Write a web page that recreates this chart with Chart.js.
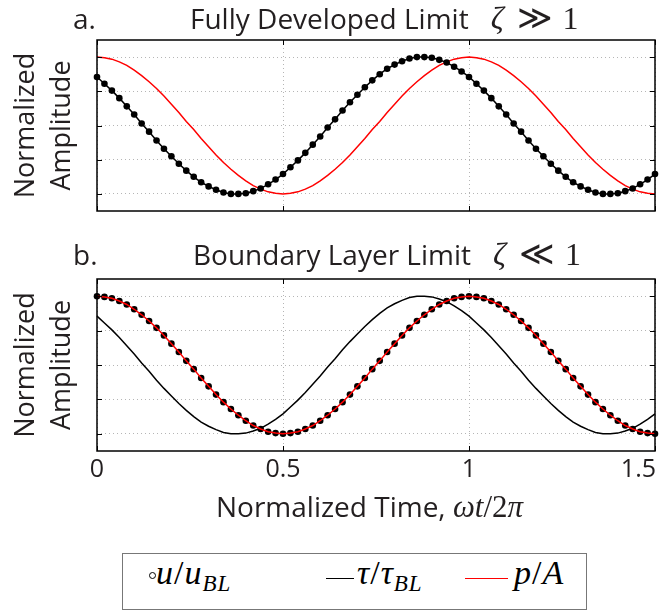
<!DOCTYPE html>
<html>
<head>
<meta charset="utf-8">
<script src="https://cdn.jsdelivr.net/npm/chart.js@4.4.0/dist/chart.umd.min.js"></script>
<style>
  html, body { margin: 0; padding: 0; background: #fff; }
  body { width: 660px; height: 610px; position: relative; overflow: hidden;
         font-family: 'Open Sans', sans-serif; color: #231f20; }
  canvas { position: absolute; left: 0; }
  #c1 { top: 0; }
  #c2 { top: 230px; }
  .txt { position: absolute; white-space: nowrap; font-size: 28px; line-height: 28px; }
  .mi { font-family: 'Liberation Serif', 'DejaVu Serif', serif; font-style: italic; }
  .mr { font-family: 'Liberation Serif', 'DejaVu Serif', serif; font-style: normal; }
  .lg { position: absolute; white-space: nowrap; font-size: 34px; line-height: 34px; letter-spacing: 1px;
        font-family: 'Liberation Serif', 'DejaVu Serif', serif; color: #000; }
  .lg sub { font-size: 23px; vertical-align: -7px; line-height: 0; }
  #legendBox { position: absolute; left: 122px; top: 553px; width: 465px; height: 57px;
               border: 1.5px solid #777; box-sizing: border-box; }
  .swatch { position: absolute; height: 0; border-top: 1.5px solid #000; }
  .dot { position: absolute; width: 7px; height: 7px; border: 1.3px solid #000;
         border-radius: 50%; box-sizing: border-box; }
</style>
</head>
<body>
<canvas id="c1" width="660" height="230"></canvas>
<canvas id="c2" width="660" height="260"></canvas>

<div class="txt" style="left:73px;top:4px">a.</div>
<div class="txt" style="left:190px;top:4px">Fully Developed Limit<span class="mi" style="font-size:32px;margin-left:22px">ζ</span><span class="mr" style="font-size:34px;margin-left:13px">≫</span><span class="mr" style="font-size:32px;margin-left:10px">1</span></div>

<div class="txt" style="left:73px;top:240px">b.</div>
<div class="txt" style="left:193px;top:240px">Boundary Layer Limit<span class="mi" style="font-size:32px;margin-left:22px">ζ</span><span class="mr" style="font-size:34px;margin-left:13px">≪</span><span class="mr" style="font-size:32px;margin-left:10px">1</span></div>

<div class="txt" style="left:216px;top:492px">Normalized Time, <span class="mi" style="font-size:31px">ω</span><span class="mi" style="font-size:31px">t</span><span class="mr" style="font-size:31px">/2</span><span class="mi" style="font-size:31px">π</span></div>

<div id="legendBox"></div>
<div class="dot" style="left:149px;top:572px"></div>
<div class="lg" style="left:156px;top:556px"><i>u</i>/<i>u</i><sub><i>BL</i></sub></div>
<div class="swatch" style="left:326px;width:28px;top:578px"></div>
<div class="lg" style="left:357px;top:556px"><i>τ</i>/<i>τ</i><sub><i>BL</i></sub></div>
<div class="swatch" style="left:465px;width:43px;top:578px;border-color:#ff0000"></div>
<div class="lg" style="left:514px;top:556px"><i>p</i>/<i>A</i></div>

<script>
'use strict';

// ── Data (normalized time, ωt/2π) ─────────────────────────────
const time = [
  0.00, 0.02, 0.04, 0.06, 0.08, 0.10, 0.12, 0.14, 0.16, 0.18,
  0.20, 0.22, 0.24, 0.26, 0.28, 0.30, 0.32, 0.34, 0.36, 0.38,
  0.40, 0.42, 0.44, 0.46, 0.48, 0.50, 0.52, 0.54, 0.56, 0.58,
  0.60, 0.62, 0.64, 0.66, 0.68, 0.70, 0.72, 0.74, 0.76, 0.78,
  0.80, 0.82, 0.84, 0.86, 0.88, 0.90, 0.92, 0.94, 0.96, 0.98,
  1.00, 1.02, 1.04, 1.06, 1.08, 1.10, 1.12, 1.14, 1.16, 1.18,
  1.20, 1.22, 1.24, 1.26, 1.28, 1.30, 1.32, 1.34, 1.36, 1.38,
  1.40, 1.42, 1.44, 1.46, 1.48, 1.50
];

// p/A (red, both panels)
const pressure = [
  1.00, 0.99, 0.97, 0.93, 0.88, 0.81, 0.73, 0.64, 0.54, 0.43,
  0.31, 0.19, 0.06, -0.06, -0.19, -0.31, -0.43, -0.54, -0.64, -0.73,
  -0.81, -0.88, -0.93, -0.97, -0.99, -1.00, -0.99, -0.97, -0.93, -0.88,
  -0.81, -0.73, -0.64, -0.54, -0.43, -0.31, -0.19, -0.06, 0.06, 0.19,
  0.31, 0.43, 0.54, 0.64, 0.73, 0.81, 0.88, 0.93, 0.97, 0.99,
  1.00, 0.99, 0.97, 0.93, 0.88, 0.81, 0.73, 0.64, 0.54, 0.43,
  0.31, 0.19, 0.06, -0.06, -0.19, -0.31, -0.43, -0.54, -0.64, -0.73,
  -0.81, -0.88, -0.93, -0.97, -0.99, -1.00
];

// u/u_BL, fully developed limit (a.)
const velocityFD = [
  0.71, 0.61, 0.51, 0.40, 0.28, 0.16, 0.03, -0.09, -0.22, -0.34,
  -0.45, -0.56, -0.66, -0.75, -0.83, -0.89, -0.94, -0.98, -1.00, -1.00,
  -0.99, -0.96, -0.92, -0.86, -0.79, -0.71, -0.61, -0.51, -0.40, -0.28,
  -0.16, -0.03, 0.09, 0.22, 0.34, 0.45, 0.56, 0.66, 0.75, 0.83,
  0.89, 0.94, 0.98, 1.00, 1.00, 0.99, 0.96, 0.92, 0.86, 0.79,
  0.71, 0.61, 0.51, 0.40, 0.28, 0.16, 0.03, -0.09, -0.22, -0.34,
  -0.45, -0.56, -0.66, -0.75, -0.83, -0.89, -0.94, -0.98, -1.00, -1.00,
  -0.99, -0.96, -0.92, -0.86, -0.79, -0.71
];

// u/u_BL, boundary layer limit (b.) — sits on p/A
const velocityBL = [
  1.00, 0.99, 0.97, 0.93, 0.88, 0.81, 0.73, 0.64, 0.54, 0.43,
  0.31, 0.19, 0.06, -0.06, -0.19, -0.31, -0.43, -0.54, -0.64, -0.73,
  -0.81, -0.88, -0.93, -0.97, -0.99, -1.00, -0.99, -0.97, -0.93, -0.88,
  -0.81, -0.73, -0.64, -0.54, -0.43, -0.31, -0.19, -0.06, 0.06, 0.19,
  0.31, 0.43, 0.54, 0.64, 0.73, 0.81, 0.88, 0.93, 0.97, 0.99,
  1.00, 0.99, 0.97, 0.93, 0.88, 0.81, 0.73, 0.64, 0.54, 0.43,
  0.31, 0.19, 0.06, -0.06, -0.19, -0.31, -0.43, -0.54, -0.64, -0.73,
  -0.81, -0.88, -0.93, -0.97, -0.99, -1.00
];

// τ/τ_BL, boundary layer limit (b.)
const shearBL = [
  0.71, 0.61, 0.51, 0.40, 0.28, 0.16, 0.03, -0.09, -0.22, -0.34,
  -0.45, -0.56, -0.66, -0.75, -0.83, -0.89, -0.94, -0.98, -1.00, -1.00,
  -0.99, -0.96, -0.92, -0.86, -0.79, -0.71, -0.61, -0.51, -0.40, -0.28,
  -0.16, -0.03, 0.09, 0.22, 0.34, 0.45, 0.56, 0.66, 0.75, 0.83,
  0.89, 0.94, 0.98, 1.00, 1.00, 0.99, 0.96, 0.92, 0.86, 0.79,
  0.71, 0.61, 0.51, 0.40, 0.28, 0.16, 0.03, -0.09, -0.22, -0.34,
  -0.45, -0.56, -0.66, -0.75, -0.83, -0.89, -0.94, -0.98, -1.00, -1.00,
  -0.99, -0.96, -0.92, -0.86, -0.79, -0.71
];

const xTicks = [0, 0.5, 1, 1.5];
const xTickLabels = ['0', '0.5', '1', '1.5'];
const yTicks = [-1, -0.5, 0, 0.5, 1];

const RED = '#ff0000';
const INK = '#231f20';

const pts = ys => time.map((t, i) => ({ x: t, y: ys[i] }));

// ── Frame, inward ticks and x tick labels (MATLAB style) ─────
const framePlugin = {
  id: 'frame',
  afterDraw(chart, args, opts) {
    const { ctx, chartArea: a, scales: { x, y } } = chart;
    ctx.save();
    ctx.strokeStyle = '#000';
    ctx.lineWidth = 1.5;
    ctx.strokeRect(a.left, a.top, a.right - a.left, a.bottom - a.top);

    ctx.lineWidth = 1;
    ctx.beginPath();
    yTicks.forEach(v => {
      const py = Math.round(y.getPixelForValue(v)) + 0.5;
      ctx.moveTo(a.left, py);  ctx.lineTo(a.left + 5, py);
      ctx.moveTo(a.right, py); ctx.lineTo(a.right - 5, py);
    });
    xTicks.forEach(v => {
      const px = Math.round(x.getPixelForValue(v)) + 0.5;
      ctx.moveTo(px, a.bottom); ctx.lineTo(px, a.bottom - 5);
      ctx.moveTo(px, a.top);    ctx.lineTo(px, a.top + 5);
    });
    ctx.stroke();

    if (opts.labels) {
      ctx.fillStyle = INK;
      ctx.font = '25px "Open Sans"';
      ctx.textBaseline = 'alphabetic';
      xTicks.forEach((v, i) => {
        const px = x.getPixelForValue(v);
        const w = ctx.measureText(xTickLabels[i]).width;
        if (px + w / 2 > chart.width - 2) {
          ctx.textAlign = 'right';
          ctx.fillText(xTickLabels[i], chart.width - 4, a.bottom + 26);
        } else {
          ctx.textAlign = 'center';
          ctx.fillText(xTickLabels[i], px, a.bottom + 26);
        }
      });
    }
    ctx.restore();
  }
};

function makePanel(id, datasets, padTop, xHeight, showLabels) {
  return new Chart(document.getElementById(id), {
    type: 'line',
    data: { datasets },
    plugins: [framePlugin],
    options: {
      responsive: false,
      animation: false,
      devicePixelRatio: 1,
      layout: { padding: { left: 0, right: 5, top: padTop, bottom: 0 } },
      plugins: {
        legend: { display: false },
        tooltip: { enabled: false },
        frame: { labels: showLabels }
      },
      scales: {
        x: {
          type: 'linear', min: 0, max: 1.5,
          afterBuildTicks: s => { s.ticks = xTicks.map(v => ({ value: v })); },
          afterFit: s => { s.height = xHeight; },
          ticks: { display: false },
          grid: { color: '#b5b5b5', lineWidth: 1, drawTicks: false },
          border: { display: false, dash: [1, 3] }
        },
        y: {
          min: -1.25, max: 1.25,
          afterBuildTicks: s => { s.ticks = yTicks.map(v => ({ value: v })); },
          afterFit: s => { s.width = 97; },
          ticks: { display: false },
          grid: { color: '#b5b5b5', lineWidth: 1, drawTicks: false },
          border: { display: false, dash: [1, 3] },
          title: {
            display: true,
            text: ['Normalized', 'Amplitude'],
            color: INK,
            font: { family: 'Open Sans', size: 27, lineHeight: '36px' },
            padding: { top: 8, bottom: 0 }
          }
        }
      }
    }
  });
}

// a. Fully developed limit
makePanel('c1', [
  {
    label: 'u/u_BL', data: pts(velocityFD),
    borderColor: '#000', borderWidth: 1.5, tension: 0,
    pointRadius: 3.3, pointBackgroundColor: '#000', pointBorderWidth: 0,
    clip: false
  },
  {
    label: 'p/A', data: pts(pressure),
    borderColor: RED, borderWidth: 1.5, tension: 0,
    pointRadius: 0, clip: false
  }
], 40, 19, false);

// b. Boundary layer limit
makePanel('c2', [
  {
    label: 'p/A', data: pts(pressure),
    borderColor: RED, borderWidth: 1.5, tension: 0,
    pointRadius: 0, clip: false
  },
  {
    label: 'u/u_BL', data: pts(velocityBL),
    showLine: false,
    pointRadius: 3.3, pointBackgroundColor: '#000', pointBorderWidth: 0,
    clip: false
  },
  {
    label: 'τ/τ_BL', data: pts(shearBL),
    borderColor: '#000', borderWidth: 1.5, tension: 0,
    pointRadius: 0, clip: false
  }
], 49, 39, true);
</script>
</body>
</html>
